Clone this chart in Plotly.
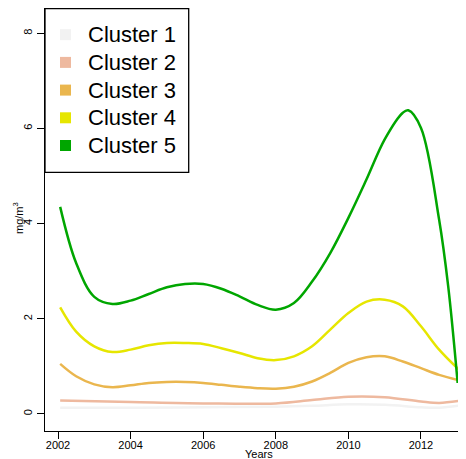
import plotly.graph_objects as go

cluster_names = ["Cluster 1", "Cluster 2", "Cluster 3", "Cluster 4", "Cluster 5"]
cluster_colors = ["#F2F2F2", "#EEB99F", "#EAB64E", "#E6E600", "#00A600"]

c1_x = [2002.06, 2004.0, 2006.0, 2008.0, 2009.0, 2010.0, 2011.0, 2012.0, 2012.5, 2013.03]
c1_y = [0.13, 0.13, 0.14, 0.15, 0.17, 0.20, 0.19, 0.14, 0.13, 0.17]

c2_x = [2002.06, 2004.0, 2006.0, 2008.0, 2009.0, 2010.0, 2011.0, 2012.0, 2012.5, 2013.03]
c2_y = [0.28, 0.25, 0.22, 0.22, 0.29, 0.36, 0.35, 0.26, 0.23, 0.27]

c3_x = [2002.06, 2002.5, 2003.0, 2003.5, 2004.0, 2004.5, 2005.0, 2005.5, 2006.0, 2006.5,
        2007.0, 2007.5, 2008.0, 2008.5, 2009.0, 2009.5, 2010.0, 2010.5, 2011.0, 2011.5,
        2012.0, 2012.5, 2013.03]
c3_y = [1.05, 0.79, 0.62, 0.56, 0.60, 0.65, 0.67, 0.67, 0.65, 0.61,
        0.57, 0.54, 0.53, 0.57, 0.68, 0.86, 1.07, 1.19, 1.21, 1.10,
        0.96, 0.82, 0.71]

c4_x = [2002.06, 2002.5, 2003.0, 2003.5, 2004.0, 2004.5, 2005.0, 2005.5, 2006.0, 2006.5,
        2007.0, 2007.5, 2008.0, 2008.5, 2009.0, 2009.5, 2010.0, 2010.5, 2011.0, 2011.5,
        2012.0, 2012.5, 2013.03]
c4_y = [2.24, 1.73, 1.42, 1.30, 1.35, 1.44, 1.49, 1.49, 1.47, 1.38,
        1.28, 1.17, 1.13, 1.21, 1.42, 1.77, 2.12, 2.36, 2.40, 2.26,
        1.84, 1.35, 0.94]

c5_x = [2002.06, 2002.5, 2003.0, 2003.5, 2004.0, 2004.5, 2005.0, 2005.5, 2006.0, 2006.5,
        2007.0, 2007.5, 2008.0, 2008.5, 2009.0, 2009.5, 2010.0, 2010.5, 2011.0, 2011.5,
        2011.65, 2012.0, 2012.5, 2012.75, 2013.01]
c5_y = [4.35, 3.17, 2.46, 2.31, 2.38, 2.52, 2.66, 2.73, 2.73, 2.63,
        2.47, 2.29, 2.19, 2.33, 2.78, 3.38, 4.12, 4.93, 5.77, 6.33,
        6.38, 6.01, 4.08, 2.68, 0.65]

series_x = [c1_x, c2_x, c3_x, c4_x, c5_x]
series_y = [c1_y, c2_y, c3_y, c4_y, c5_y]

x_ticks = [2002, 2004, 2006, 2008, 2010, 2012]
y_ticks = [0, 2, 4, 6, 8]

FONT = "Liberation Sans, Arial, Helvetica, sans-serif"

fig = go.Figure()
for name, col, xs, ys in zip(cluster_names, cluster_colors, series_x, series_y):
    fig.add_trace(go.Scatter(x=xs, y=ys, mode="lines", name=name,
                             line=dict(color=col, width=2.5, shape="spline", smoothing=1.0),
                             showlegend=False, hoverinfo="skip"))

# page has an 8px body margin: figure coords = page coords - 8
OFF = 8
W, H = 458, 451
ml, mr, mt, mb = 37, 0, 0, 28
pw, ph = W - ml - mr, H - mt - mb

def px(page_x):
    return (page_x - OFF - ml) / pw

def py(page_y):
    return 1 - (page_y - OFF - mt) / ph

shapes = [dict(type="rect", xref="paper", yref="paper",
               x0=px(45), x1=px(188.7), y0=py(172.3), y1=py(8.7),
               line=dict(color="black", width=1.3), fillcolor="white", layer="above")]
annotations = []
row0, dy = 34.7, 27.7
for i, (name, col) in enumerate(zip(cluster_names, cluster_colors)):
    cy = row0 + i * dy
    shapes.append(dict(type="rect", xref="paper", yref="paper",
                       x0=px(60), x1=px(71), y0=py(cy + 5.5), y1=py(cy - 5.5),
                       line=dict(width=0), fillcolor=col, layer="above"))
    annotations.append(dict(text=name, xref="paper", yref="paper",
                            x=px(85.5), y=py(cy), xanchor="left", yanchor="middle",
                            showarrow=False, font=dict(family=FONT, size=22, color="black")))

annotations.append(dict(text="mg/m<sup>3</sup>", xref="paper", yref="paper",
                        x=px(18), y=py(218), xanchor="center", yanchor="middle",
                        textangle=-90, showarrow=False, font=dict(family=FONT, size=11, color="black")))
annotations.append(dict(text="Years", xref="paper", yref="paper",
                        x=px(259), y=py(454), xanchor="center", yanchor="middle",
                        showarrow=False, font=dict(family=FONT, size=11, color="black")))

fig.update_layout(
    width=W, height=H,
    margin=dict(l=ml, r=mr, t=mt, b=mb, pad=0),
    paper_bgcolor="white", plot_bgcolor="white",
    font=dict(family=FONT, size=11, color="black"),
    shapes=shapes, annotations=annotations,
    xaxis=dict(range=[2001.642, 2013.24], tickvals=x_ticks, ticktext=[str(v) for v in x_ticks],
               showgrid=False, zeroline=False, showline=True, linecolor="black", linewidth=1.3,
               ticks="outside", ticklen=7, tickwidth=1, tickcolor="black",
               ticklabelstandoff=-3,
               tickfont=dict(family=FONT, size=11)),
    yaxis=dict(range=[-0.36, 8.53], tickvals=y_ticks, ticktext=[str(v) for v in y_ticks],
               showgrid=False, zeroline=False, showline=True, linecolor="black", linewidth=1.3,
               ticks="outside", ticklen=7, tickwidth=1, tickcolor="black", tickangle=-90,
               tickfont=dict(family=FONT, size=11)),
)

fig.write_html("out.html")
